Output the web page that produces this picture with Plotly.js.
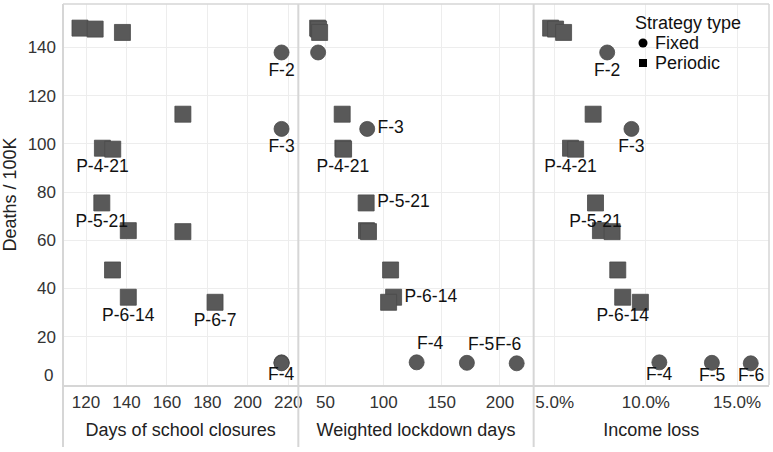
<!DOCTYPE html>
<html><head><meta charset="utf-8">
<script src="https://cdn.plot.ly/plotly-3.0.1.min.js"></script>
<style>html,body{margin:0;padding:0;background:#fff}#chart{width:773px;height:452px}</style>
</head><body><div id="chart"></div>
<script>
// ---- data ----
const strategyType = ['Periodic','Periodic','Periodic','Fixed','Periodic','Fixed','Periodic','Periodic','Periodic','Periodic','Periodic','Periodic','Periodic','Periodic','Fixed','Fixed','Fixed'];
const strategyName = ['','','','F-2','','F-3','P-4-21','','P-5-21','','','','P-6-14','P-6-7','F-4','F-5','F-6'];
const deaths       = [148.0,147.6,146.2,137.9,112.3,106.2,98.2,97.8,75.5,64.0,63.6,47.7,36.4,34.3,9.4,9.2,9.0];
const schoolDays   = [117.0,124.5,138.0,216.7,167.9,216.7,128.1,133.2,127.8,140.9,167.9,133.1,140.9,183.8,216.7,216.7,216.7];
const lockdownDays = [43.3,44.1,45.0,43.7,64.4,85.9,65.0,65.6,85.0,85.3,87.0,106.0,108.6,104.3,128.4,171.6,214.4];
const incomeLoss   = [0.0478,0.0505,0.0549,0.0788,0.0711,0.0921,0.0587,0.0615,0.0724,0.0751,0.0815,0.0846,0.0873,0.0970,0.1074,0.1362,0.1575];
const xTitles = ['Days of school closures','Weighted lockdown days','Income loss'];
const yTitle = 'Deaths / 100K';
const legendTitle = 'Strategy type';
const legendItems = ['Fixed','Periodic'];

// which labels are shown in each panel (label collision as in the reference)
const shownSchool   = ['F-2','F-3','P-4-21','P-5-21','P-6-14','P-6-7','F-4'];
const shownLockdown = ['F-3','P-4-21','P-5-21','P-6-14','F-4','F-5','F-6'];
const shownIncome   = ['F-2','F-3','P-4-21','P-5-21','P-6-14','F-4','F-5','F-6'];

// ---- styling ----
const FONT = 'Liberation Sans, Arial, Helvetica, sans-serif';
const MARK = '#595959';
const LABEL_FONT = {family:FONT,size:17.5,color:'#111'};
// text positions for trace labels (default: bottom center)
const placeLockdown = {'F-3':'middle right','P-5-21':'middle right','P-6-14':'middle right'};
// labels nudged by the original layout engine: pixel offsets of the label centre from the marker
const nudgeSchool   = {'F-4':[0,-12]};
const nudgeLockdown = {'F-4':[14,19],'F-5':[14,19],'F-6':[-9,19]};
const nudgeIncome   = {'F-4':[0,-12],'F-5':[0,-12],'F-6':[0,-12]};

const annotations = [];
function panelTraces(xs, xa, shown, place, nudge){
  const out = [];
  ['Fixed','Periodic'].forEach(function(t){
    const idx = strategyType.map((s,i)=>s===t?i:-1).filter(i=>i>=0);
    out.push({
      type:'scatter', mode:'markers+text', xaxis:xa, yaxis:'y', name:t,
      x: idx.map(i=>xs[i]), y: idx.map(i=>deaths[i]),
      text: idx.map(i=>(shown.indexOf(strategyName[i])>=0 && !nudge[strategyName[i]])?strategyName[i]:''),
      textposition: idx.map(i=>(place && place[strategyName[i]])||'bottom center'),
      textfont:LABEL_FONT,
      cliponaxis:false, showlegend:false, hoverinfo:'skip',
      marker:{symbol: t==='Fixed'?'circle':'square', size: t==='Fixed'?15:16, color:MARK, line:{color:'#4a4a4a',width:0.8}}
    });
  });
  strategyName.forEach(function(n,i){
    if(n && nudge[n] && shown.indexOf(n)>=0){
      annotations.push({text:n, xref:xa, yref:'y', x:xs[i], y:deaths[i], xanchor:'center', yanchor:'middle',
        xshift:nudge[n][0], yshift:nudge[n][1], showarrow:false, font:LABEL_FONT});
    }
  });
  return out;
}
let traces = [];
traces = traces.concat(panelTraces(schoolDays,'x',shownSchool,null,nudgeSchool));
traces = traces.concat(panelTraces(lockdownDays,'x2',shownLockdown,placeLockdown,nudgeLockdown));
traces = traces.concat(panelTraces(incomeLoss,'x3',shownIncome,null,nudgeIncome));

const grid = '#ededed', border = '#d6d6d6';
function xax(dom, range, tickvals, fmt, title){
  return {domain:dom, range:range, tickvals:tickvals, tickformat:fmt, anchor:'y',
    showgrid:true, gridcolor:grid, gridwidth:1, zeroline:false,
    showline:true, linecolor:border, linewidth:2, mirror:false, ticks:'',
    ticklabelstandoff:1,
    tickfont:{family:FONT,size:17,color:'#333'},
    title:{text:title, font:{family:FONT,size:18,color:'#222'}, standoff:12}, fixedrange:true};
}
// pixel helpers for the hand-placed legend block (plot area: x 63..769, y 4..385)
const PW = 706, PH = 381;
const px = v => (v-63)/PW, py = v => (385-v)/PH;
annotations.push(
  {text:'0',xref:'paper',yref:'y',x:-8/PW,y:3.8,xanchor:'right',yanchor:'middle',showarrow:false,
    font:{family:FONT,size:17,color:'#333'}},
  {text:legendTitle,xref:'paper',yref:'paper',x:px(633),y:py(23),xanchor:'left',yanchor:'middle',showarrow:false,
    font:{family:FONT,size:18,color:'#111'}}
);
legendItems.forEach(function(n,k){
  annotations.push({text:n,xref:'paper',yref:'paper',x:px(653),y:py(43+20*k),xanchor:'left',yanchor:'middle',showarrow:false,
    font:{family:FONT,size:18,color:'#111'}});
});
const layout = {
  width:773, height:452, margin:{l:63,r:4,t:4,b:67},
  paper_bgcolor:'#fff', plot_bgcolor:'#fff', showlegend:false,
  xaxis: xax([0,1/3],[108.6,225],[120,140,160,180,200,220],'',xTitles[0]),
  xaxis2: xax([1/3,2/3],[26.7,229],[50,100,150,200],'',xTitles[1]),
  xaxis3: xax([2/3,1],[0.0385,0.1675],[0.05,0.10,0.15],'.1%',xTitles[2]),
  yaxis: {range:[0,158], tickvals:[20,40,60,80,100,120,140], showgrid:true, gridcolor:grid, zeroline:false,
    showline:false, ticks:'', ticklabelstandoff:6,
    tickfont:{family:FONT,size:17,color:'#333'},
    title:{text:yTitle, font:{family:FONT,size:18,color:'#222'}, standoff:6}, fixedrange:true},
  shapes:[
    {type:'line',xref:'paper',yref:'paper',x0:0,x1:0,y0:-0.163,y1:1,line:{color:border,width:2}},
    {type:'line',xref:'paper',yref:'paper',x0:1/3,x1:1/3,y0:-0.163,y1:1,line:{color:border,width:2}},
    {type:'line',xref:'paper',yref:'paper',x0:2/3,x1:2/3,y0:-0.163,y1:1,line:{color:border,width:2}},
    {type:'line',xref:'paper',yref:'paper',x0:1,x1:1,y0:0,y1:1,line:{color:border,width:1.5}},
    {type:'line',xref:'paper',yref:'paper',x0:0,x1:1,y0:1,y1:1,line:{color:border,width:1.5}},
    // legend symbols
    {type:'circle',xref:'paper',yref:'paper',x0:px(638.5),x1:px(647.5),y0:py(38.5),y1:py(47.5),fillcolor:'#000',line:{width:0}},
    {type:'rect',xref:'paper',yref:'paper',x0:px(639),x1:px(647),y0:py(59),y1:py(67),fillcolor:'#000',line:{width:0}}
  ],
  annotations:annotations
};
Plotly.newPlot('chart', traces, layout, {displayModeBar:false, staticPlot:true});
</script></body></html>
